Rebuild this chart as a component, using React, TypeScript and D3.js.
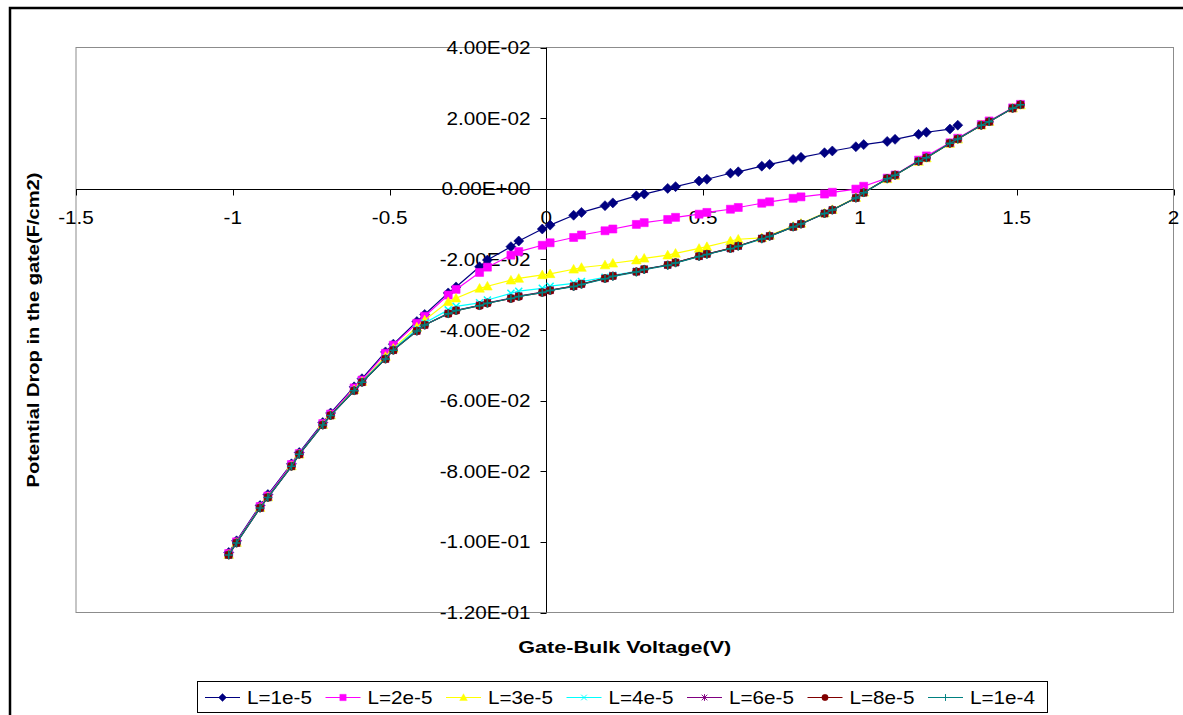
import React, {useEffect, useRef} from 'react';
import * as d3 from 'd3';

// Gate-bulk voltage values (markers come in close pairs around each 0.1 V step)
const voltage = [
  -1.013, -0.988, -0.913, -0.888, -0.813, -0.788, -0.713, -0.688, -0.613, -0.588,
  -0.513, -0.488, -0.413, -0.388, -0.313, -0.288, -0.213, -0.188, -0.113, -0.088,
  -0.013, 0.012, 0.087, 0.112, 0.187, 0.212, 0.287, 0.312, 0.387, 0.412,
  0.487, 0.512, 0.587, 0.612, 0.687, 0.712, 0.787, 0.812, 0.887, 0.912,
  0.987, 1.012, 1.087, 1.112, 1.187, 1.212, 1.287, 1.312, 1.387, 1.412,
  1.487, 1.512,
];

const L1e5 = [
  -0.103, -0.0997, -0.0897, -0.0866, -0.0779, -0.0747, -0.0662, -0.0635, -0.0561, -0.0538,
  -0.0462, -0.044, -0.0376, -0.0356, -0.0295, -0.0278, -0.0221, -0.0202, -0.0164, -0.0148,
  -0.0114, -0.0103, -0.0075, -0.0067, -0.0048, -0.004, -0.002, -0.0015, 0.0001, 0.0006,
  0.0022, 0.0027, 0.0044, 0.0048, 0.0064, 0.0069, 0.0083, 0.0089, 0.0102, 0.0107,
  0.0119, 0.0125, 0.0134, 0.014, 0.0154, 0.016, 0.0169, 0.018,
];
const L2e5 = [
  -0.1033, -0.1, -0.09, -0.087, -0.0781, -0.075, -0.0665, -0.0638, -0.0564, -0.0542,
  -0.0466, -0.0443, -0.0381, -0.0361, -0.0301, -0.0285, -0.0237, -0.0222, -0.0188, -0.0178,
  -0.016, -0.0153, -0.0138, -0.0131, -0.0119, -0.0114, -0.0101, -0.0096, -0.0087, -0.0081,
  -0.0072, -0.0067, -0.0058, -0.0053, -0.0041, -0.0037, -0.0027, -0.0023, -0.0015, -0.001,
  -0.0001, 0.0007, 0.003, 0.0039, 0.0081, 0.0093, 0.013, 0.0143, 0.0182, 0.0192,
  0.0229, 0.0239,
];
const L3e5 = [
  -0.1036, -0.1002, -0.0903, -0.0873, -0.0785, -0.0752, -0.0668, -0.0641, -0.0569, -0.0546,
  -0.0475, -0.0452, -0.0392, -0.0372, -0.032, -0.031, -0.0282, -0.0276, -0.0259, -0.0254,
  -0.0244, -0.0241, -0.0228, -0.0223, -0.0216, -0.0211, -0.0202, -0.0197, -0.0188, -0.0183,
  -0.0169, -0.0164, -0.0148, -0.0143, -0.0139, -0.0132, -0.0106, -0.0098, -0.0069, -0.0059,
  -0.0025, -0.001, 0.0028, 0.0038, 0.0077, 0.0087, 0.0128, 0.014, 0.018, 0.019,
  0.0228, 0.0237,
];
const L4e5 = [
  -0.1037, -0.1003, -0.0904, -0.0874, -0.0786, -0.0752, -0.0669, -0.0642, -0.0571, -0.0547,
  -0.048, -0.0455, -0.0398, -0.038, -0.0343, -0.0333, -0.0323, -0.0315, -0.0296, -0.029,
  -0.0282, -0.0276, -0.0268, -0.0263, -0.0251, -0.0245, -0.0234, -0.0227, -0.0216, -0.0209,
  -0.0191, -0.0185, -0.0169, -0.0162, -0.0141, -0.0134, -0.0108, -0.01, -0.007, -0.006,
  -0.0026, -0.0011, 0.0029, 0.0039, 0.0078, 0.0088, 0.0129, 0.0141, 0.018, 0.019,
  0.0228, 0.0238,
];
const L6e5 = [
  -0.1037, -0.1003, -0.0904, -0.0874, -0.0786, -0.0752, -0.0669, -0.0642, -0.0572, -0.0548,
  -0.0482, -0.0457, -0.0403, -0.0386, -0.0353, -0.0344, -0.033, -0.0323, -0.031, -0.0304,
  -0.0293, -0.0287, -0.0276, -0.027, -0.0254, -0.0247, -0.0235, -0.0228, -0.0216, -0.0209,
  -0.0191, -0.0185, -0.0169, -0.0162, -0.0141, -0.0134, -0.0108, -0.01, -0.007, -0.006,
  -0.0026, -0.0011, 0.0029, 0.0039, 0.0078, 0.0088, 0.0129, 0.0141, 0.018, 0.019,
  0.0228, 0.0238,
];
const L8e5 = [
  -0.1037, -0.1003, -0.0904, -0.0874, -0.0786, -0.0752, -0.0669, -0.0642, -0.0572, -0.0548,
  -0.0482, -0.0457, -0.0403, -0.0386, -0.0354, -0.0345, -0.0331, -0.0324, -0.0311, -0.0305,
  -0.0294, -0.0288, -0.0276, -0.027, -0.0254, -0.0247, -0.0235, -0.0228, -0.0216, -0.0209,
  -0.0191, -0.0185, -0.0169, -0.0162, -0.0141, -0.0134, -0.0108, -0.01, -0.007, -0.006,
  -0.0026, -0.0011, 0.0029, 0.0039, 0.0078, 0.0088, 0.0129, 0.0141, 0.018, 0.019,
  0.0228, 0.0238,
];
const L1e4 = [
  -0.1037, -0.1003, -0.0904, -0.0874, -0.0786, -0.0752, -0.0669, -0.0642, -0.0572, -0.0548,
  -0.0482, -0.0457, -0.0403, -0.0386, -0.0354, -0.0345, -0.0331, -0.0324, -0.0311, -0.0305,
  -0.0294, -0.0288, -0.0277, -0.0271, -0.0255, -0.0248, -0.0236, -0.0229, -0.0217, -0.021,
  -0.0192, -0.0186, -0.017, -0.0163, -0.0142, -0.0135, -0.0108, -0.01, -0.007, -0.006,
  -0.0026, -0.0011, 0.0028, 0.0038, 0.0078, 0.0088, 0.0129, 0.0141, 0.018, 0.019,
  0.0228, 0.0238,
];

const seriesNames = ['L=1e-5', 'L=2e-5', 'L=3e-5', 'L=4e-5', 'L=6e-5', 'L=8e-5', 'L=1e-4'];
const seriesValues = [L1e5, L2e5, L3e5, L4e5, L6e5, L8e5, L1e4];
const seriesColors = ['#000080', '#FF00FF', '#FFFF00', '#00FFFF', '#800080', '#800000', '#008080'];
const seriesMarkers = ['diamond', 'square', 'triangle', 'x', 'asterisk', 'circle', 'plus'];

const xTicks = [-1.5, -1, -0.5, 0, 0.5, 1, 1.5, 2];
const xTickLabels = ['-1.5', '-1', '-0.5', '0', '0.5', '1', '1.5', '2'];
const yTicks = [0.04, 0.02, 0, -0.02, -0.04, -0.06, -0.08, -0.1, -0.12];
const yTickLabels = [
  '4.00E-02', '2.00E-02', '0.00E+00', '-2.00E-02', '-4.00E-02',
  '-6.00E-02', '-8.00E-02', '-1.00E-01', '-1.20E-01',
];

const FONT = '"Liberation Sans", Arial, sans-serif';

// marker path centred on 0,0
const markerPath = (kind: string) => {
  switch (kind) {
    case 'diamond':
      return 'M0,-5L5,0L0,5L-5,0Z';
    case 'square':
      return 'M-4,-4H4V4H-4Z';
    case 'triangle':
      return 'M0,-4.8L4.8,3.8L-4.8,3.8Z';
    case 'x':
      return 'M-3.5,-3.5L3.5,3.5M3.5,-3.5L-3.5,3.5';
    case 'asterisk':
      return 'M-3.5,-3.5L3.5,3.5M3.5,-3.5L-3.5,3.5M0,-4.2V4.2';
    case 'plus':
      return 'M-4.3,0H4.3M0,-4.3V4.3';
    default:
      return d3.arc()({innerRadius: 0, outerRadius: 4, startAngle: 0, endAngle: 2 * Math.PI}) || '';
  }
};
const filled = (kind: string) => ['diamond', 'square', 'triangle', 'circle'].includes(kind);

export default function App() {
  const svgRef = useRef<SVGSVGElement>(null);

  useEffect(() => {
    if (!svgRef.current) return;
    const svg = d3.select(svgRef.current);
    svg.selectAll('*').remove();

    const plot = {left: 76, top: 47.5, right: 1173.5, bottom: 612.5};

    const x = d3.scaleLinear().domain([-1.5, 2]).range([plot.left, plot.right]);
    const y = d3.scaleLinear().domain([-0.12, 0.04]).range([plot.bottom, plot.top]);

    // chart area with its border
    svg
      .append('rect')
      .attr('x', 10)
      .attr('y', 8)
      .attr('width', 1300)
      .attr('height', 900)
      .attr('fill', '#fff')
      .attr('stroke', '#000')
      .attr('stroke-width', 2.5);

    // plot area
    svg
      .append('rect')
      .attr('x', plot.left)
      .attr('y', plot.top)
      .attr('width', plot.right - plot.left)
      .attr('height', plot.bottom - plot.top)
      .attr('fill', '#fff')
      .attr('stroke', '#8c8c8c')
      .attr('stroke-width', 1);

    const x0 = Math.round(x(0)) + 0.5;
    const y0 = Math.round(y(0)) + 0.5;

    // axes crossing at zero
    svg
      .append('line')
      .attr('x1', plot.left)
      .attr('x2', plot.right)
      .attr('y1', y0)
      .attr('y2', y0)
      .attr('stroke', '#000');
    svg
      .append('line')
      .attr('x1', x0)
      .attr('x2', x0)
      .attr('y1', plot.top)
      .attr('y2', plot.bottom)
      .attr('stroke', '#000');

    // x ticks
    const xt = svg.append('g');
    xTicks.forEach((t, i) => {
      const px = Math.round(x(t)) + 0.5;
      xt.append('line')
        .attr('x1', px)
        .attr('x2', px)
        .attr('y1', y0)
        .attr('y2', y0 + 6)
        .attr('stroke', '#000');
      xt.append('text')
        .attr('transform', `translate(${x(t)},${y0 + 34}) scale(1.15,1)`)
        .attr('text-anchor', 'middle')
        .attr('font-family', FONT)
        .attr('font-size', 18)
        .attr('fill', '#000')
        .text(xTickLabels[i]);
    });

    // y ticks
    const yt = svg.append('g');
    yTicks.forEach((t, i) => {
      const py = Math.round(y(t)) + 0.5;
      yt.append('line')
        .attr('x1', x0 - 6)
        .attr('x2', x0)
        .attr('y1', py)
        .attr('y2', py)
        .attr('stroke', '#000');
      yt.append('text')
        .attr('transform', `translate(${x0 - 16},${y(t) + 6.5}) scale(1.15,1)`)
        .attr('text-anchor', 'end')
        .attr('font-family', FONT)
        .attr('font-size', 18)
        .attr('fill', '#000')
        .text(yTickLabels[i]);
    });

    // series
    const line = d3
      .line<[number, number]>()
      .x((d) => x(d[0]))
      .y((d) => y(d[1]));

    seriesValues.forEach((vals, si) => {
      const pts: [number, number][] = vals.map((v, i) => [voltage[i], v]);
      const color = seriesColors[si];
      const kind = seriesMarkers[si];
      const g = svg.append('g');
      g.append('path')
        .attr('d', line(pts) || '')
        .attr('fill', 'none')
        .attr('stroke', color)
        .attr('stroke-width', 1.2);
      g.selectAll('path.m')
        .data(pts)
        .enter()
        .append('path')
        .attr('class', 'm')
        .attr('transform', (d) => `translate(${x(d[0])},${y(d[1])})`)
        .attr('d', markerPath(kind))
        .attr('fill', filled(kind) ? color : 'none')
        .attr('stroke', color)
        .attr('stroke-width', filled(kind) ? 0.6 : 1.5);
    });

    // axis titles
    svg
      .append('text')
      .attr('x', (plot.left + plot.right) / 2)
      .attr('y', 653)
      .attr('text-anchor', 'middle')
      .attr('font-family', FONT)
      .attr('font-weight', 'bold')
      .attr('font-size', 17)
      .attr('textLength', 213)
      .attr('lengthAdjust', 'spacingAndGlyphs')
      .text('Gate-Bulk Voltage(V)');

    svg
      .append('text')
      .attr('transform', `translate(39,${(plot.top + plot.bottom) / 2}) rotate(-90)`)
      .attr('text-anchor', 'middle')
      .attr('font-family', FONT)
      .attr('font-weight', 'bold')
      .attr('font-size', 17)
      .attr('textLength', 315)
      .attr('lengthAdjust', 'spacingAndGlyphs')
      .text('Potential Drop in the gate(F/cm2)');

    // legend
    const lg = svg.append('g');
    lg.append('rect')
      .attr('x', 197.5)
      .attr('y', 681.5)
      .attr('width', 850)
      .attr('height', 31)
      .attr('fill', '#fff')
      .attr('stroke', '#000')
      .attr('stroke-width', 1);
    seriesNames.forEach((name, i) => {
      const sx = 205 + i * 120.5;
      const ly = 697.5;
      lg.append('line')
        .attr('x1', sx)
        .attr('x2', sx + 35)
        .attr('y1', ly)
        .attr('y2', ly)
        .attr('stroke', seriesColors[i]);
      const kind = seriesMarkers[i];
      lg.append('path')
        .attr('transform', `translate(${sx + 17.5},${ly}) scale(0.8)`)
        .attr('d', markerPath(kind))
        .attr('fill', filled(kind) ? seriesColors[i] : 'none')
        .attr('stroke', seriesColors[i])
        .attr('stroke-width', filled(kind) ? 0.5 : 1.2);
      lg.append('text')
        .attr('transform', `translate(${sx + 42},${ly + 6.5}) scale(1.15,1)`)
        .attr('font-family', FONT)
        .attr('font-size', 18)
        .attr('fill', '#000')
        .text(name);
    });
  }, []);

  return (
    <svg
      ref={svgRef}
      width={1183}
      height={715}
      style={{position: 'absolute', left: 0, top: 0, display: 'block'}}
    />
  );
}
